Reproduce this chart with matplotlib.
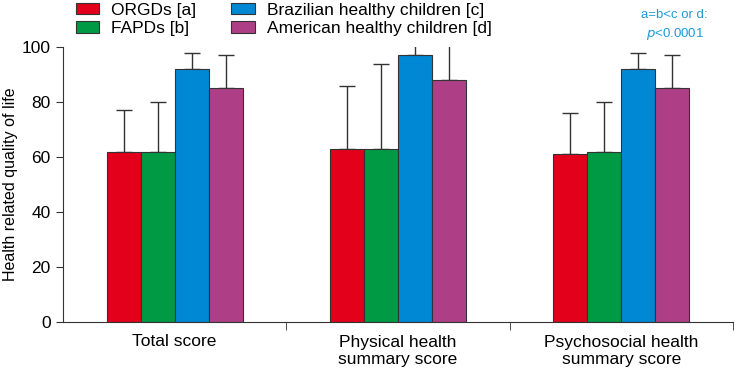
import numpy as np
import matplotlib.pyplot as plt
from matplotlib.patches import Patch

## DATA ----------------
categories = ['Total score', 'Physical health\nsummary score', 'Psychosocial health\nsummary score']
series_names = ['ORGDs [a]', 'FAPDs [b]', 'Brazilian healthy children [c]', 'American healthy children [d]']
orgds = [62, 63, 61]
fapds = [62, 63, 62]
brazil = [92, 97, 92]
america = [85, 88, 85]
orgds_sd = [15, 23, 15]
fapds_sd = [18, 31, 18]
brazil_sd = [6, 8, 6]
america_sd = [12, 14, 12]

colors = ['#E2001A', '#009A44', '#0088D4', '#AE3F86']

## PLOT ----------------
plt.rcParams['font.family'] = ['Liberation Sans', 'DejaVu Sans']
fs = 12.5
fig = plt.figure(figsize=(7.35, 3.69), dpi=100)
ax = fig.add_axes([63 / 735, 1 - 322 / 369, 670 / 735, 275 / 369])

x = np.arange(len(categories))
w = 0.152
values = [orgds, fapds, brazil, america]
errs = [orgds_sd, fapds_sd, brazil_sd, america_sd]
for i in range(4):
    pos = x + (i - 1.5) * w
    ax.bar(pos, values[i], w, color=colors[i], edgecolor='#333333', linewidth=0.8, zorder=2)
    ax.errorbar(pos, values[i], yerr=[np.zeros(3), errs[i]], fmt='none',
                ecolor='#333333', elinewidth=1, capsize=6, capthick=1, zorder=1)

ax.set_xlim(-0.5, 2.5)
ax.set_ylim(0, 100)
ax.set_yticks(np.arange(0, 101, 20))
ax.set_xticks(x)
ax.set_xticklabels(categories, fontsize=fs, linespacing=1.2)
ax.tick_params(axis='x', length=0, pad=9)
ax.set_xticks([0.5, 1.5, 2.5], minor=True)
ax.tick_params(axis='x', which='minor', length=6, direction='out', color='#333333')
ax.tick_params(axis='y', labelsize=fs, length=5, color='#333333', pad=4)
ax.set_ylabel('Health related quality of life', fontsize=11.5, va='center')
ax.yaxis.set_label_coords(-0.079, 0.5)
for s in ['top', 'right']:
    ax.spines[s].set_visible(False)
for s in ['left', 'bottom']:
    ax.spines[s].set_color('#333333')

handles = [Patch(facecolor=c, edgecolor='#333333', linewidth=0.8) for c in colors]
fig.legend(handles, series_names, ncol=2, loc='upper left', bbox_to_anchor=(0.082, 1.035),
           frameon=False, fontsize=fs, handlelength=1.35, handleheight=0.65,
           labelspacing=0.2, columnspacing=2.0, handletextpad=0.7)

fig.text(0.918, 0.975, 'a=b<c or d:\n$\\it{p}$<0.0001', color='#1E9AD6', fontsize=9.5,
         ha='center', va='top', linespacing=1.4)

plt.savefig('out.png', dpi=100)
